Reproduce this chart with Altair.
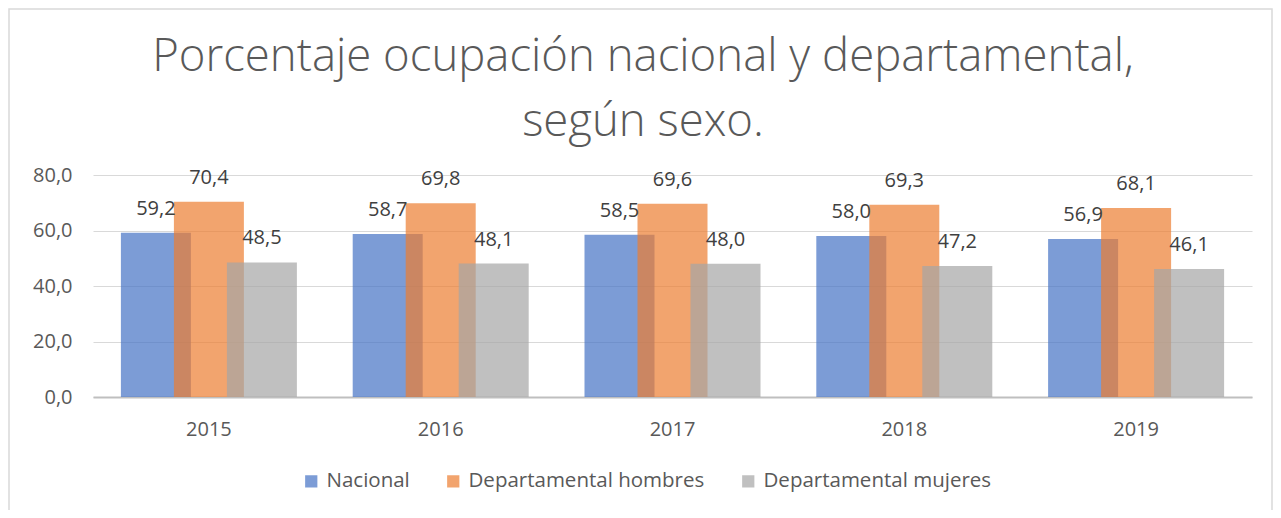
import altair as alt
import pandas as pd

years = ["2015", "2016", "2017", "2018", "2019"]
series = ["Nacional", "Departamental hombres", "Departamental mujeres"]
nacional = [59.2, 58.7, 58.5, 58.0, 56.9]
hombres = [70.4, 69.8, 69.6, 69.3, 68.1]
mujeres = [48.5, 48.1, 48.0, 47.2, 46.1]
colors = ["#4472C4", "#ED7D31", "#A5A5A5"]
offsets = [-53, 0, 53]
title_lines = ["Porcentaje ocupación nacional y departamental,", "según sexo."]

rows = []
for s, vals in zip(series, [nacional, hombres, mujeres]):
    for y, v in zip(years, vals):
        rows.append({"year": y, "serie": s, "valor": v})
df = pd.DataFrame(rows)

FONT = "Open Sans"
W, H = 1159, 222
PL, PT, PR, PB = 85, 167, 21, 113

base = alt.Chart(df).transform_calculate(
    lab="replace(format(datum.valor, '.1f'), '.', ',')"
)

xenc = alt.X(
    "year:N",
    title=None,
    sort=years,
    scale=alt.Scale(paddingInner=0, paddingOuter=0),
    axis=alt.Axis(
        labelAngle=0, labelFontSize=20, labelColor="#595959", labelFont=FONT,
        ticks=False, domainColor="#BFBFBF", domainWidth=2, labelPadding=22,
    ),
)
yenc = alt.Y(
    "valor:Q",
    title=None,
    scale=alt.Scale(domain=[0, 80], nice=False),
    axis=alt.Axis(
        values=[0, 20, 40, 60, 80], labelExpr="replace(format(datum.value, '.1f'), '.', ',')",
        labelFontSize=20, labelColor="#595959", labelFont=FONT, ticks=False, domain=False,
        gridColor="#D9D9D9", gridWidth=1, labelPadding=21,
    ),
)
color = alt.Color(
    "serie:N",
    scale=alt.Scale(domain=series, range=colors),
    legend=alt.Legend(
        title=None, orient="none", direction="horizontal", legendX=208, legendY=296,
        symbolType="square", symbolSize=150, symbolOpacity=0.7, symbolStrokeWidth=0,
        labelFontSize=20.5, labelColor="#595959", labelFont=FONT, columnPadding=33,
        labelOffset=5, labelLimit=400,
    ),
)

layers = []
# chart-area frame (decoration)
frame = alt.Chart(pd.DataFrame({"f": [0]})).mark_rect(
    fill="transparent", stroke="#D9D9D9", strokeWidth=1.5
).encode(
    x=alt.value(-PL + 1), x2=alt.value(W + PR - 1),
    y=alt.value(-PT + 1), y2=alt.value(H + PB + 20),
)
layers.append(frame)

# chart title, two centred lines
title_df = pd.DataFrame({"t": title_lines})
for i, line in enumerate(title_lines):
    layers.append(
        alt.Chart(title_df).transform_filter(alt.datum.t == line).mark_text(
            font=FONT, fontSize=45.5, fontWeight=300, color="#595959",
            align="center", baseline="alphabetic",
        ).encode(
            x=alt.value(550), y=alt.value(-104 + 65 * i), text="t:N"
        )
    )

for s, off in zip(series, offsets):
    b = base.transform_filter(alt.datum.serie == s)
    layers.append(
        b.mark_bar(width=70, xOffset=off, opacity=0.7).encode(x=xenc, y=yenc, color=color)
    )
for s, off in zip(series, offsets):
    b = base.transform_filter(alt.datum.serie == s)
    layers.append(
        b.mark_text(xOffset=off, baseline="bottom", dy=-14, fontSize=20, font=FONT, color="#404040").encode(
            x=xenc, y=yenc, text="lab:N"
        )
    )

chart = alt.layer(*layers).properties(
    width=W,
    height=H,
    autosize=alt.AutoSizeParams(type="none"),
    padding={"left": PL, "top": PT, "right": PR, "bottom": PB},
).configure_view(stroke=None)

chart.save("out.html", embed_options={"renderer": "svg", "actions": False})
